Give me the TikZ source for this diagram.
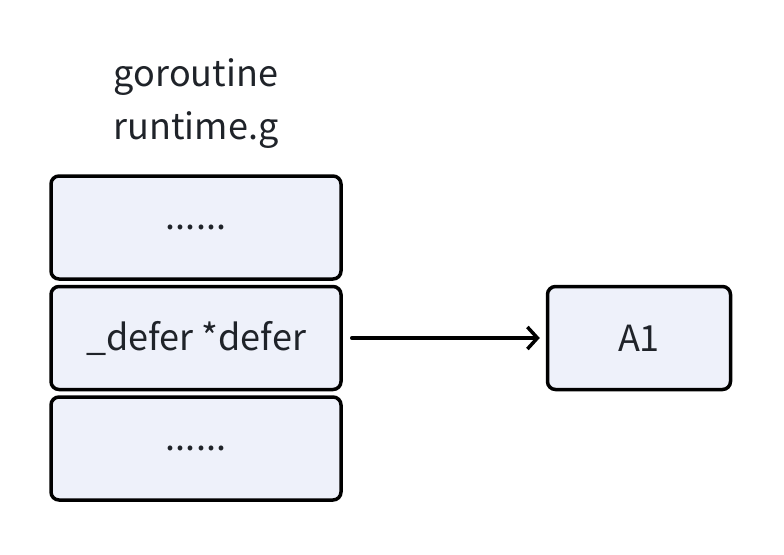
\documentclass[tikz,border=0pt]{standalone}
\usepackage{fontspec}
\setmainfont{Noto Sans CJK SC}
\usetikzlibrary{positioning}
\usetikzlibrary{arrows.meta}
\definecolor{boxfill}{HTML}{EEF1FA}
\definecolor{textgray}{HTML}{1F2329}

\begin{document}
\begin{tikzpicture}[x=1pt,y=-1pt,>={Straight Barb[length=10pt,width=22pt]},
	line width=3.5pt,font=\fontsize{36}{53}\selectfont,text=textgray,
	slot/.style={draw=black,fill=boxfill,rounded corners=8pt,
		minimum width=290pt,minimum height=103pt,inner sep=0pt}]
	\useasboundingbox (0,0) rectangle (784,554);
	
	\node[slot] (top) at (196,227.5) {......};
	\node[slot] (mid) [below=4pt of top] {\_defer *defer};
	\node[slot] (bot) [below=4pt of mid] {......};
	\node[slot,minimum width=183pt] (a1) [right=203pt of mid] {A1};
	\node[align=center,inner sep=0pt] (title) at (196,104) {goroutine\\runtime.g};
	
	\draw[->,line cap=round,shorten <=9pt,shorten >=6pt] (mid) -- (a1);
\end{tikzpicture}
\end{document}
